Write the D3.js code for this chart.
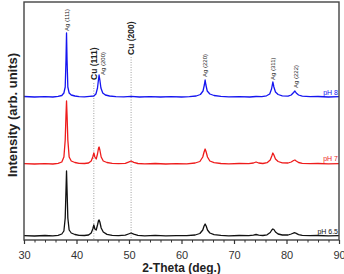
<!DOCTYPE html>
<html><head><meta charset="utf-8">
<script src="https://cdn.jsdelivr.net/npm/d3@7"></script>
<style>body{margin:0;background:#fff}svg{display:block;font-family:"Liberation Sans",Arial,sans-serif}</style>
</head><body><svg id="c" width="344" height="274"></svg>
<script>
const seriesNames = ["pH 8", "pH 7", "pH 6.5"];
const seriesColors = ["#1515f0", "#ee1c1c", "#111111"];
const pH8 = [[30,143.5],[32,143],[34,143.4],[35.5,143],[36.5,143.6],[37.2,144.5],[37.6,147],[37.85,153],[38.0,180],[38.1,207],[38.2,180],[38.35,153],[38.6,147],[39.0,145],[39.7,144],[40.5,143.3],[41.5,143.2],[42.5,143.6],[43.3,144],[43.7,146],[44.0,152],[44.2,161],[44.3,165],[44.45,160],[44.65,152],[45,147],[45.5,145],[46.3,144],[47.5,143.3],[49,143.2],[50.4,143.6],[52,143],[54,143.4],[56,143],[58,143.3],[60,143],[61.5,143.4],[62.8,144],[63.6,145.5],[64.1,149],[64.35,155],[64.5,160],[64.65,155],[64.9,149],[65.4,146],[66.2,144.5],[67.5,143.6],[69,143.2],[71,143.4],[73,143],[74.2,143.5],[75.3,143.3],[76.2,144.2],[76.8,146],[77.15,151],[77.4,158],[77.6,153],[77.9,148],[78.4,145.5],[79.2,144.2],[80.3,143.8],[80.9,145],[81.35,147.5],[81.6,149],[81.85,147],[82.3,145],[83,143.8],[84.5,143.3],[86,143.5],[88,143],[90,143.3]];
const pH7 = [[30,76.3],[32,76],[34,76.4],[35.5,76],[36.5,76.6],[37.2,78],[37.6,83],[37.85,100],[38.0,125],[38.1,139],[38.2,125],[38.35,100],[38.6,83],[39.0,79],[39.7,77.5],[40.5,76.6],[41.5,76.5],[42.3,77],[42.8,79],[43.1,83],[43.3,87],[43.5,83],[43.75,81],[44.0,86],[44.2,92],[44.3,93],[44.45,90],[44.7,83],[45.1,79],[45.8,77.5],[46.8,76.6],[48,76.3],[49.3,76.6],[49.9,77.8],[50.4,79],[50.9,77.6],[51.7,76.5],[53,76.2],[55,76.5],[57,76],[59,76.3],[61,76.2],[62.6,77],[63.5,78.5],[64.05,83],[64.3,88],[64.5,91],[64.7,88],[64.95,83],[65.4,79],[66.2,77.3],[67.5,76.5],[69,76.2],[71,76.5],[72.8,76.4],[73.7,77],[74.2,78],[74.7,77],[75.5,76.5],[76.3,77.3],[76.9,80],[77.2,84],[77.4,87],[77.6,85],[77.9,81],[78.4,78.5],[79.2,77.2],[80.3,77],[80.9,78],[81.35,79.5],[81.6,80],[81.85,79],[82.3,77.5],[83,76.7],[84.5,76.3],[86,76.5],[88,76.1],[90,76.3]];
const pH65 = [[30,4.4],[32,4],[34,4.5],[35.5,4.2],[36.5,4.7],[37.2,6],[37.6,9],[37.85,22],[38.0,50],[38.1,69],[38.2,50],[38.35,22],[38.6,10],[39.0,7],[39.7,5.5],[40.5,4.7],[41.5,4.5],[42.3,5],[42.8,7],[43.1,11],[43.3,15],[43.5,11],[43.75,10],[44.0,15],[44.2,19.5],[44.3,20],[44.45,18],[44.7,12],[45.1,8],[45.8,5.6],[46.8,4.7],[48,4.3],[49.3,4.8],[49.9,6],[50.4,7],[50.9,5.8],[51.7,4.6],[53,4.2],[55,4.6],[57,4.1],[59,4.4],[61,4.3],[62.6,5],[63.5,6.5],[64.05,10],[64.3,14],[64.5,16],[64.7,14],[64.95,10],[65.4,7],[66.2,5.3],[67.5,4.6],[69,4.2],[71,4.5],[72.8,4.4],[73.7,4.8],[74.2,5.5],[74.7,4.8],[75.5,4.5],[76.3,5.2],[76.9,7.5],[77.2,10],[77.4,11],[77.6,10.5],[77.9,8],[78.4,6],[79.2,5],[80.3,5],[80.9,6],[81.35,7],[81.6,7.3],[81.85,6.6],[82.3,5.4],[83,4.7],[84.5,4.3],[86,4.5],[88,4.1],[90,4.4]];
const seriesData = [pH8, pH7, pH65];
const seriesLabelY = [145.5, 79, 6.5];
const peakLabels = ["Ag (111)", "Cu (111)", "Ag (200)", "Cu (200)", "Ag (220)", "Ag (311)", "Ag (222)"];
const peakLabelX = [38.1, 43.3, 45.0, 50.4, 64.5, 77.4, 81.8];
const peakLabelY = [209, 160, 165, 185, 163, 160, 152];
const peakLabelBold = [false, true, false, true, false, false, false];
const cuLines = [43.3, 50.4];
const cuLineTop = [157, 183];
const xTicks = [30, 40, 50, 60, 70, 80, 90];

const svg = d3.select("#c");
const L = 24, R = 339, T = 2, B = 240;
const x = d3.scaleLinear().domain([30, 90]).range([L, R]);
const y = d3.scaleLinear().domain([0, 238]).range([B, T]);

// dotted Cu lines
svg.selectAll("line.cu").data(cuLines).enter().append("line")
  .attr("x1", d => x(d)).attr("x2", d => x(d))
  .attr("y1", (d, i) => y(cuLineTop[i])).attr("y2", B)
  .attr("stroke", "#8a8a8a").attr("stroke-width", 0.8).attr("stroke-dasharray", "1,1.5");

const line = d3.line().x(d => x(d[0])).y(d => y(d[1]));
svg.selectAll("path.s").data(seriesData).enter().append("path")
  .attr("d", line).attr("fill", "none")
  .attr("stroke", (d, i) => seriesColors[i]).attr("stroke-width", 1.3).attr("stroke-linejoin", "round");

// series labels
svg.selectAll("text.sl").data(seriesNames).enter().append("text")
  .attr("x", R - 1).attr("y", (d, i) => y(seriesLabelY[i]))
  .attr("text-anchor", "end").attr("font-size", 7).attr("fill", (d, i) => seriesColors[i]).text(d => d);

// peak labels
svg.selectAll("text.pl").data(peakLabels).enter().append("text")
  .attr("transform", (d, i) => `translate(${x(peakLabelX[i])},${y(peakLabelY[i])}) rotate(-90)`)
  .attr("dy", (d, i) => peakLabelBold[i] ? "0.35em" : "0.35em")
  .attr("font-size", (d, i) => peakLabelBold[i] ? 8.5 : 6)
  .attr("font-weight", (d, i) => peakLabelBold[i] ? "bold" : "normal")
  .attr("fill", "#222").text(d => d);

// frame
svg.append("rect").attr("x", L).attr("y", T).attr("width", R - L).attr("height", B - T)
  .attr("fill", "none").attr("stroke", "#444").attr("stroke-width", 1.4);

// x axis
const ax = svg.append("g").attr("transform", `translate(0,${B})`)
  .call(d3.axisBottom(x).tickValues(xTicks).tickSize(4).tickFormat(d3.format("d")));
ax.select(".domain").remove();
ax.selectAll("line").attr("stroke", "#333").attr("stroke-width", 1.2);
ax.selectAll("text").attr("font-size", 11).attr("fill", "#333").attr("dy", "1.05em").attr("font-family", "Liberation Sans, Arial, sans-serif");
const minor = svg.append("g").attr("transform", `translate(0,${B})`)
  .call(d3.axisBottom(x).tickValues(d3.range(32, 90, 2).filter(v => v % 10 !== 0)).tickSize(2.5).tickFormat(""));
minor.select(".domain").remove();
minor.selectAll("line").attr("stroke", "#333").attr("stroke-width", 1);

svg.append("text").attr("x", (L + R) / 2).attr("y", 272).attr("text-anchor", "middle")
  .attr("font-size", 12).attr("font-weight", "bold").attr("fill", "#222").text("2-Theta (deg.)");
svg.append("text").attr("transform", `translate(17,115) rotate(-90)`).attr("text-anchor", "middle")
  .attr("font-size", 13).attr("font-weight", "bold").attr("fill", "#222").text("Intensity (arb. units)");
</script></body></html>
